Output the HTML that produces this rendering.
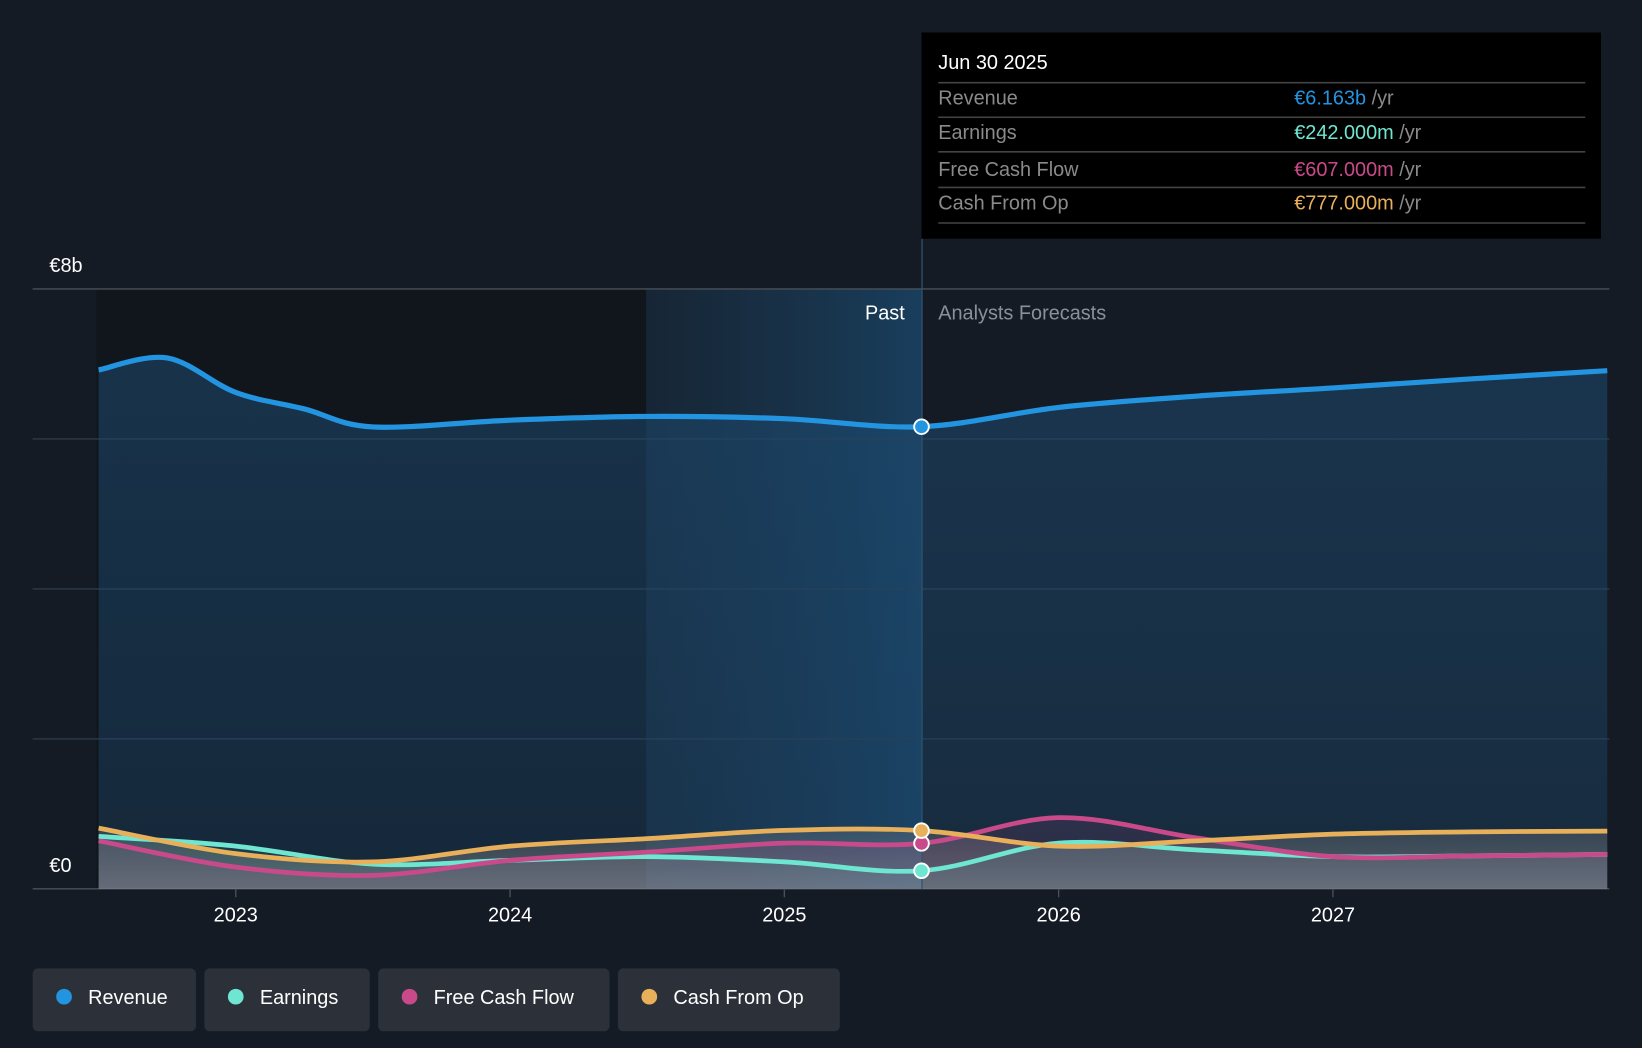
<!DOCTYPE html>
<html><head><meta charset="utf-8">
<style>
html,body{margin:0;padding:0;background:#151b24;}
svg{display:block;font-family:"Liberation Sans",sans-serif;}
</style></head>
<body>
<svg id="chart" width="1642" height="1048" viewBox="0 0 1568 1001" xmlns="http://www.w3.org/2000/svg">
<defs>
<linearGradient id="pastGrad" x1="0" x2="1" y1="0" y2="0">
<stop offset="0" stop-color="#1a3a55" stop-opacity="0.35"/>
<stop offset="1" stop-color="#1a4a70" stop-opacity="0.75"/>
</linearGradient>
<linearGradient id="revGrad" x1="0" x2="0" y1="0" y2="1">
<stop offset="0" stop-color="#1d4a70" stop-opacity="0.55"/>
<stop offset="1" stop-color="#1d4a70" stop-opacity="0.35"/>
</linearGradient>
<linearGradient id="lowGrad" x1="0" x2="0" y1="0" y2="1">
<stop offset="0" stop-color="#8a8a8a" stop-opacity="0.25"/>
<stop offset="1" stop-color="#aaaaaa" stop-opacity="0.45"/>
</linearGradient>
</defs>
<rect x="0" y="0" width="1568" height="1001" fill="#151b24"/>
<rect x="92" y="276" width="525" height="573" fill="#10141b" opacity="0.7"/>
<rect x="617" y="276" width="263" height="573" fill="url(#pastGrad)"/>
<g id="grid"></g>
<g id="areas"></g>
<g id="lines"></g>
<line x1="880.5" x2="880.5" y1="228" y2="849" stroke="#2e5470" stroke-width="1.2"/>
<text x="864" y="305" fill="#ffffff" font-size="19" text-anchor="end">Past</text>
<text x="896" y="305" fill="#8a9099" font-size="19">Analysts Forecasts</text>
<g id="dots"></g>
<g id="axis"></g>
<g>
<rect x="880" y="31" width="649" height="197" fill="#000"/>
<text x="896" y="66" fill="#fff" font-size="19">Jun 30 2025</text>
<line x1="896" x2="1514" y1="79" y2="79" stroke="#444" stroke-width="1.5"/>
<text x="896" y="100" fill="#8a8a8a" font-size="19">Revenue</text>
<text x="1236" y="100" font-size="19"><tspan fill="#2394e0">€6.163b</tspan><tspan fill="#8a8a8a"> /yr</tspan></text>
<line x1="896" x2="1514" y1="112" y2="112" stroke="#444" stroke-width="1.5"/>
<text x="896" y="133" fill="#8a8a8a" font-size="19">Earnings</text>
<text x="1236" y="133" font-size="19"><tspan fill="#6ee6d2">€242.000m</tspan><tspan fill="#8a8a8a"> /yr</tspan></text>
<line x1="896" x2="1514" y1="145" y2="145" stroke="#444" stroke-width="1.5"/>
<text x="896" y="168" fill="#8a8a8a" font-size="19">Free Cash Flow</text>
<text x="1236" y="168" font-size="19"><tspan fill="#c94a8a">€607.000m</tspan><tspan fill="#8a8a8a"> /yr</tspan></text>
<line x1="896" x2="1514" y1="179" y2="179" stroke="#444" stroke-width="1.5"/>
<text x="896" y="200" fill="#8a8a8a" font-size="19">Cash From Op</text>
<text x="1236" y="200" font-size="19"><tspan fill="#e8b05a">€777.000m</tspan><tspan fill="#8a8a8a"> /yr</tspan></text>
<line x1="896" x2="1514" y1="213" y2="213" stroke="#444" stroke-width="1.5"/>
</g>
<g id="legend"></g>
</svg>
<script>
const yTickLabels = ["€0","€8b"];
const xTickYears = [2023,2024,2025,2026,2027];
const revYears = [2022.5,2022.75,2023,2023.25,2023.5,2024,2024.5,2025,2025.5,2026,2026.5,2027,2027.5,2028.0];
const revenue = [6.92,7.08,6.62,6.40,6.16,6.25,6.30,6.27,6.163,6.42,6.57,6.68,6.80,6.91];
const lowYears = [2022.5,2023,2023.5,2024,2024.5,2025,2025.5,2026,2026.5,2027,2027.5,2028.0];
const earnings = [0.70,0.57,0.33,0.38,0.43,0.36,0.242,0.61,0.52,0.43,0.44,0.46];
const fcf = [0.64,0.29,0.18,0.38,0.49,0.61,0.607,0.95,0.68,0.43,0.44,0.46];
const cfo = [0.81,0.47,0.36,0.57,0.67,0.78,0.777,0.57,0.64,0.73,0.76,0.77];
const legendNames = ["Revenue","Earnings","Free Cash Flow","Cash From Op"];
const colors = ["#2394e0","#6ee6d2","#c94a8a","#e8b05a"];

const NS="http://www.w3.org/2000/svg";
const X = yr => 225 + (yr-2023)*262;
const Y = v => 849 - v/8*573;
function el(tag,attrs,parent){const e=document.createElementNS(NS,tag);for(const k in attrs)e.setAttribute(k,attrs[k]);parent.appendChild(e);return e;}
function smooth(xs,vs){
  const p=xs.map((x,i)=>[X(x),Y(vs[i])]);
  let d="M"+p[0][0]+","+p[0][1];
  for(let i=0;i<p.length-1;i++){
    const p0=p[i-1]||p[i],p1=p[i],p2=p[i+1],p3=p[i+2]||p2;
    const t=6;
    d+=" C"+(p1[0]+(p2[0]-p0[0])/t)+","+(p1[1]+(p2[1]-p0[1])/t)+" "+(p2[0]-(p3[0]-p1[0])/t)+","+(p2[1]-(p3[1]-p1[1])/t)+" "+p2[0]+","+p2[1];
  }
  return d;
}
const grid=document.getElementById('grid');
for(let i=0;i<=4;i++){
  const g=el('line',{x1:31,x2:1537,y1:Y(i*2),y2:Y(i*2),stroke:i===0?'#4a5058':(i===4?'#4a5058':'#2c3a48'),'stroke-width':1.3},grid);
  
  
}
const t0=el('text',{x:47,y:Y(0)-16,fill:'#fff','font-size':19},grid);t0.textContent=yTickLabels[0];


const t1=el('text',{x:47,y:Y(8)-16,fill:'#fff','font-size':19},grid);t1.textContent=yTickLabels[1];



const areas=document.getElementById('areas'), lines=document.getElementById('lines'), dots=document.getElementById('dots');
const series=[[revYears,revenue],[lowYears,earnings],[lowYears,fcf],[lowYears,cfo]];
const fills=['url(#revGrad)','rgba(110,230,210,0.10)','rgba(201,74,138,0.12)','url(#lowGrad)'];
const x0=X(revYears[0]), x1=X(revYears[revYears.length-1]);
[0,3,2,1].forEach(i=>{
  const [xs,vs]=series[i];
  const a=el('path',{d:smooth(xs,vs)+" L"+x1+","+Y(0)+" L"+x0+","+Y(0)+" Z",fill:fills[i]},areas);
  
  
});
[0,1,2,3].forEach(i=>{
  const [xs,vs]=series[i];
  const l=el('path',{d:smooth(xs,vs),fill:'none',stroke:colors[i],'stroke-width':i===0?5:4.5,'stroke-linecap':'butt'},lines);
  
  
  const idx=xs.indexOf(2025.5);
  const c=el('circle',{cx:X(2025.5),cy:Y(vs[idx]),r:7,fill:colors[i],stroke:'#fff','stroke-width':1.8},dots);
  
  
});
const axis=document.getElementById('axis');
xTickYears.forEach(yr=>{
  el('line',{x1:X(yr),x2:X(yr),y1:849,y2:857,stroke:'#4a5058','stroke-width':1.3},axis);
  const t=el('text',{x:X(yr),y:880,fill:'#fff','font-size':19,'text-anchor':'middle'},axis);
  t.textContent=yr;
  
  
});
const legend=document.getElementById('legend');
const lx=[31,195,361,590], lw=[156,158,221,212];
legendNames.forEach((n,i)=>{
  const g=el('g',{},legend);
  
  
  el('rect',{x:lx[i],y:925,width:lw[i],height:60,rx:5,fill:'#2b3039'},g);
  el('circle',{cx:lx[i]+30,cy:952,r:7.5,fill:colors[i]},g);
  const t=el('text',{x:lx[i]+53,y:959,fill:'#fff','font-size':19},g);
  t.textContent=n;
});
</script>
</body></html>
